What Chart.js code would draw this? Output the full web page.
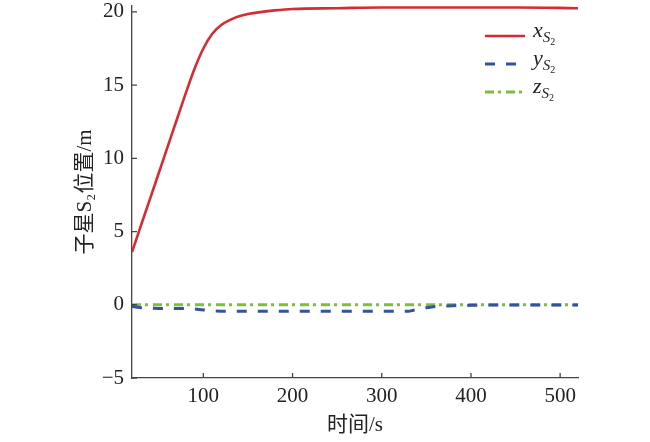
<!DOCTYPE html>
<html>
<head>
<meta charset="utf-8">
<script src="https://cdn.jsdelivr.net/npm/chart.js@4/dist/chart.umd.min.js"></script>
<style>
    html, body { margin: 0; padding: 0; background: #fff; }
    #wrap { position: relative; width: 650px; height: 442px; }
    #legend { position: absolute; left: 484px; top: 22px; font-family: "Liberation Serif", serif; }
    .row { position: relative; height: 28px; display: flex; align-items: center; }
    .row svg { width: 42px; height: 10px; }
    .lbl { margin-left: 7px; font-size: 22px; font-style: italic; color: #222; line-height: 20px; }
    .lbl sub { font-size: 15px; vertical-align: -5px; }
    .lbl sub sub { font-size: 10px; font-style: normal; vertical-align: -3px; }
</style>
</head>
<body>
<div id="wrap">
    <canvas id="chart-pos" width="650" height="442"></canvas>
    <div id="legend">
        <div class="row"><svg><line x1="1" y1="5" x2="41" y2="5" stroke="#d52b35" stroke-width="2.6"/></svg><span class="lbl">x<sub>S<sub>2</sub></sub></span></div>
        <div class="row"><svg><line x1="1" y1="5" x2="41" y2="5" stroke="#3352a0" stroke-width="3" stroke-dasharray="10 11"/></svg><span class="lbl">y<sub>S<sub>2</sub></sub></span></div>
        <div class="row"><svg><line x1="1" y1="5" x2="41" y2="5" stroke="#7cbf3a" stroke-width="3" stroke-dasharray="9 4 3 5"/></svg><span class="lbl">z<sub>S<sub>2</sub></sub></span></div>
    </div>
</div>
<script>
// Datos: posición del subsatélite S2
const tiempo = [20, 30, 40, 50, 60, 70, 80, 90, 100, 110, 120, 130, 140, 150, 160, 180, 200, 250, 300, 330, 340, 350, 360, 380, 400, 420, 450, 520];
const posX = [3.6, 5.4, 7.2, 9.0, 10.8, 12.6, 14.4, 16.1, 17.5, 18.5, 19.1, 19.45, 19.7, 19.85, 19.95, 20.1, 20.2, 20.25, 20.3, 20.3, 20.3, 20.3, 20.3, 20.3, 20.3, 20.3, 20.3, 20.25];
const posY = [-0.12, -0.2, -0.22, -0.25, -0.25, -0.25, -0.25, -0.28, -0.35, -0.42, -0.45, -0.45, -0.45, -0.45, -0.45, -0.45, -0.45, -0.45, -0.45, -0.45, -0.32, -0.2, -0.12, -0.06, -0.04, -0.02, -0.02, -0.02];
const posZ = [0, 0, 0, 0, 0, 0, 0, 0, 0, 0, 0, 0, 0, 0, 0, 0, 0, 0, 0, 0, 0, 0, 0, 0, 0, 0, 0, 0];
const ticksX = [100, 200, 300, 400, 500];
const ticksY = [-5, 0, 5, 10, 15, 20];

const serie = vals => tiempo.map((t, i) => ({ x: t, y: vals[i] }));

// Marcas de eje hacia dentro
const marcasInternas = {
    id: 'marcasInternas',
    afterDraw(chart) {
        const ctx = chart.ctx;
        const xs = chart.scales.x, ys = chart.scales.y;
        ctx.save();
        ctx.strokeStyle = '#444';
        ctx.lineWidth = 1.3;
        ctx.beginPath();
        xs.ticks.forEach((t, i) => {
            const px = xs.getPixelForTick(i);
            ctx.moveTo(px, ys.bottom);
            ctx.lineTo(px, ys.bottom - 5);
        });
        ys.ticks.forEach((t, i) => {
            const py = ys.getPixelForTick(i);
            ctx.moveTo(xs.left, py);
            ctx.lineTo(xs.left + 5, py);
        });
        ctx.stroke();
        ctx.restore();
    }
};

const fuente = { family: '"Liberation Serif", "Noto Sans CJK SC", serif', size: 21 };

new Chart(document.getElementById('chart-pos'), {
    type: 'line',
    data: {
        datasets: [{
            label: 'xS2',
            data: serie(posX),
            borderColor: '#d52b35',
            borderWidth: 2.6,
            cubicInterpolationMode: 'monotone',
            pointRadius: 0
        }, {
            label: 'yS2',
            data: serie(posY),
            borderColor: '#3352a0',
            borderWidth: 3,
            borderDash: [10, 11],
            tension: 0,
            pointRadius: 0
        }, {
            label: 'zS2',
            data: serie(posZ),
            borderColor: '#7cbf3a',
            borderWidth: 3,
            borderDash: [9, 4, 3, 5],
            tension: 0,
            pointRadius: 0
        }]
    },
    options: {
        responsive: false,
        animation: false,
        layout: { padding: { left: 73, right: 72, top: 6, bottom: 0 } },
        plugins: {
            legend: { display: false },
            tooltip: { enabled: false }
        },
        scales: {
            x: {
                type: 'linear',
                min: 20,
                max: 520,
                afterBuildTicks: s => { s.ticks = ticksX.map(v => ({ value: v })); },
                afterFit: s => { s.height = 64; s.paddingLeft = 0; s.paddingRight = 0; },
                grid: { drawOnChartArea: false, drawTicks: false },
                border: { color: '#444', width: 1.3 },
                ticks: { color: '#222', font: fuente, padding: 6, maxRotation: 0 },
                title: { display: true, text: '时间/s', color: '#222', font: fuente, padding: { top: 0 } }
            },
            y: {
                min: -5,
                max: 20.4,
                afterBuildTicks: s => { s.ticks = ticksY.map(v => ({ value: v })); },
                afterFit: s => { s.width = 59; s.paddingTop = 0; s.paddingBottom = 0; },
                grid: { drawOnChartArea: false, drawTicks: false },
                border: { color: '#444', width: 1.3 },
                ticks: {
                    color: '#222',
                    font: fuente,
                    padding: 8,
                    callback: v => String(v).replace('-', '\u2212')
                },
                title: { display: true, text: '子星S₂位置/m', color: '#222', font: fuente, padding: { top: 0, bottom: 0 } }
            }
        }
    },
    plugins: [marcasInternas]
});
</script>
</body>
</html>
